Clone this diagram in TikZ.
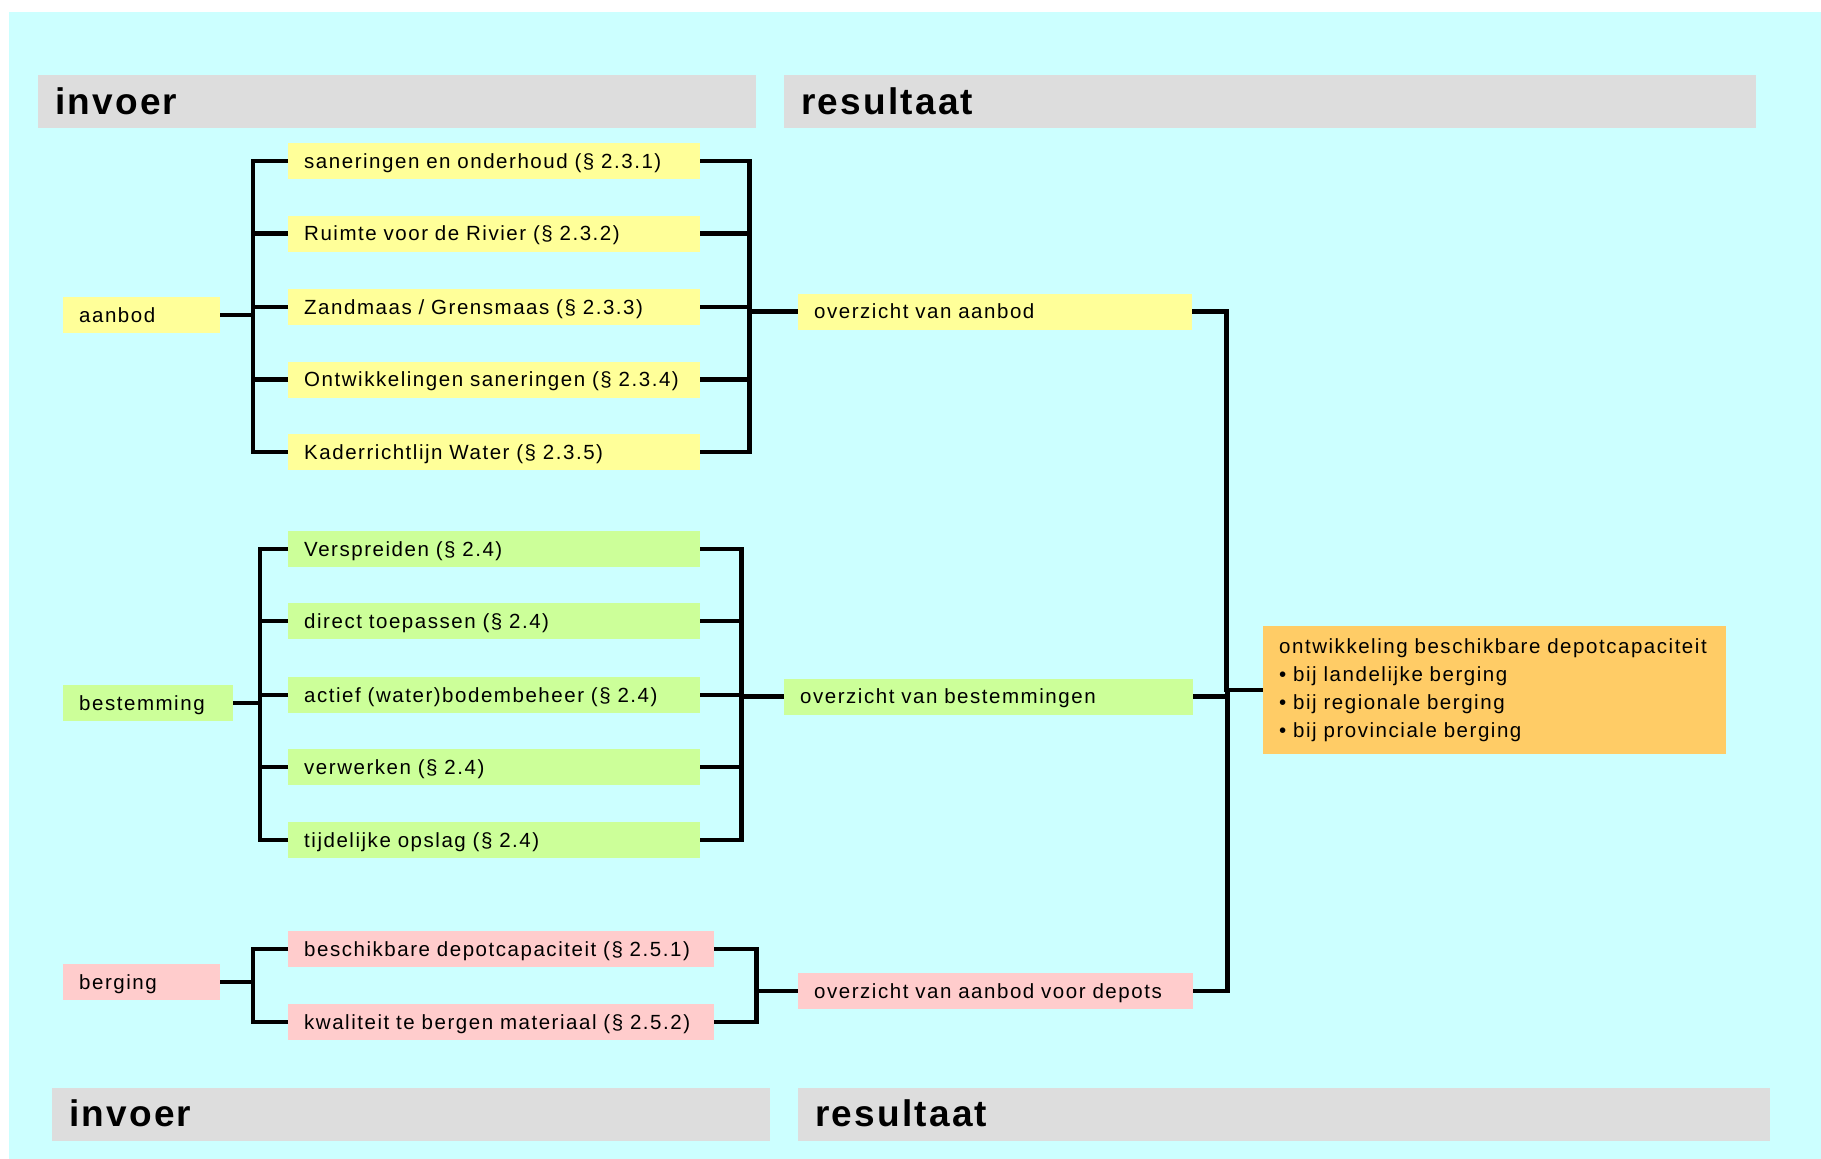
\documentclass[tikz,border=0pt]{standalone}
\usepackage{fontspec}
\setmainfont{Liberation Sans}
\newfontfamily\vakfont[LetterSpace=7.5]{Liberation Sans}
\newfontfamily\kopfont[LetterSpace=6]{Liberation Sans}
\usetikzlibrary{positioning}

\definecolor{achtergrond}{RGB}{204,255,255}
\definecolor{kopgrijs}{RGB}{221,221,221}
\definecolor{geel}{RGB}{255,255,153}
\definecolor{groen}{RGB}{204,255,153}
\definecolor{roze}{RGB}{255,204,204}
\definecolor{oranje}{RGB}{255,204,102}

\tikzset{
  vak/.style={anchor=west, minimum height=36pt, inner xsep=16pt, inner ysep=0pt,
    text width=#1, align=left, text height=18pt, text depth=4pt,
    font=\vakfont\fontsize{20.5}{24}\selectfont},
  kop/.style={anchor=west, fill=kopgrijs, minimum height=53pt, inner xsep=17pt,
    inner ysep=0pt, text width=#1, align=left, text height=25pt, text depth=0pt,
    font=\kopfont\bfseries\fontsize{37}{40}\selectfont},
  lijn/.style={line width=4.5pt, line join=miter}
}

\begin{document}
\begin{tikzpicture}[x=1pt,y=-1pt]
\useasboundingbox (0,0) rectangle (1821,1159);
\fill[achtergrond] (9,12) rectangle (1821,1159);

% koppen
\node[kop=684pt] (kopin)  at (38,101.5)  {invoer};
\node[kop=938pt] (kopres) at (784,101.5) {resultaat};
\node[kop=684pt] (voetin)  at (52,1114)  {invoer};
\node[kop=938pt] (voetres) at (798,1114) {resultaat};

% aanbod
\node[vak=125pt, fill=geel] (aanbod) at (63,315) {aanbod};
\node[vak=380pt, fill=geel] (s1) at (288,161)   {saneringen en onderhoud (§ 2.3.1)};
\node[vak=380pt, fill=geel] (s2) at (288,233.5) {Ruimte voor de Rivier (§ 2.3.2)};
\node[vak=380pt, fill=geel] (s3) at (288,307)   {Zandmaas / Grensmaas (§ 2.3.3)};
\node[vak=380pt, fill=geel] (s4) at (288,379.5) {Ontwikkelingen saneringen (§ 2.3.4)};
\node[vak=380pt, fill=geel] (s5) at (288,452)   {Kaderrichtlijn Water (§ 2.3.5)};
\node[vak=362pt, fill=geel] (oa) at (798,311.5) {overzicht van aanbod};

% bestemming
\node[vak=138pt, fill=groen] (bestemming) at (63,703) {bestemming};
\node[vak=380pt, fill=groen] (b1) at (288,549) {Verspreiden (§ 2.4)};
\node[vak=380pt, fill=groen] (b2) at (288,621) {direct toepassen (§ 2.4)};
\node[vak=380pt, fill=groen] (b3) at (288,695) {actief (water)bodembeheer (§ 2.4)};
\node[vak=380pt, fill=groen] (b4) at (288,767) {verwerken (§ 2.4)};
\node[vak=380pt, fill=groen] (b5) at (288,840) {tijdelijke opslag (§ 2.4)};
\node[vak=377pt, fill=groen] (ob) at (784,696.5) {overzicht van bestemmingen};

% berging
\node[vak=125pt, fill=roze] (berging) at (63,982) {berging};
\node[vak=394pt, fill=roze] (d1) at (288,949)  {beschikbare depotcapaciteit (§ 2.5.1)};
\node[vak=394pt, fill=roze] (d2) at (288,1022) {kwaliteit te bergen materiaal (§ 2.5.2)};
\node[vak=363pt, fill=roze] (od) at (798,991)  {overzicht van aanbod voor depots};

% resultaat
\node[anchor=north west, fill=oranje, inner xsep=16pt, inner ysep=12pt,
  text width=431pt, align=left, font=\vakfont\fontsize{20.5}{28.3}\selectfont]
  (dc) at (1263,626) {ontwikkeling beschikbare depotcapaciteit\\
  • bij landelijke berging\\
  • bij regionale berging\\
  • bij provinciale berging};

\foreach \i in {1,...,5} {
  \draw[lijn] (s\i.west) -- ++(-35,0) |- (aanbod.east);
  \draw[lijn] (s\i.east) -- ++(49,0) |- (oa.west);
  \draw[lijn] (b\i.west) -- ++(-28,0) |- (bestemming.east);
  \draw[lijn] (b\i.east) -- ++(41,0) |- (ob.west);
}
\foreach \i in {1,2} {
  \draw[lijn] (d\i.west) -- ++(-35,0) |- (berging.east);
  \draw[lijn] (d\i.east) -- ++(42,0) |- (od.west);
}
\foreach \n in {oa,ob,od}
  \draw[lijn] (\n.east) -- ++(34,0) |- (dc.west);
\end{tikzpicture}
\end{document}
